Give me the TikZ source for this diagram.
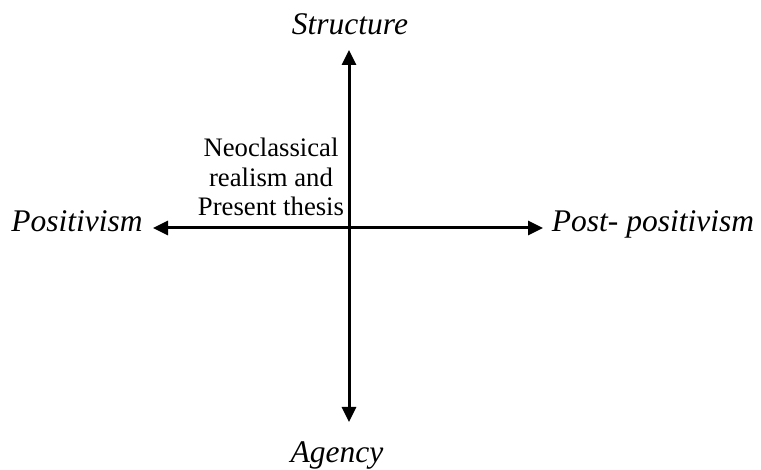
\documentclass[tikz,border=0pt]{standalone}
\usepackage{fontspec}
\setmainfont{Liberation Serif}
\usetikzlibrary{arrows.meta}
\begin{document}
\begin{tikzpicture}[x=1pt,y=-1pt,
  axis/.style={line width=3pt,-{Triangle[length=15pt,width=14pt]}},
  axislabel/.style={font=\fontsize{31.5}{36}\selectfont\itshape,inner sep=0pt,anchor=base},
  note/.style={font=\fontsize{26.7}{29.5}\selectfont,align=center,inner sep=0pt}]
\useasboundingbox (0,0) rectangle (761,470);
\coordinate (top) at (349,50);
\coordinate (bot) at (349,422);
\coordinate (lft) at (153,228);
\coordinate (rgt) at (543,228);
\coordinate (ctr) at (349,228);
\node[axislabel] (structure) at (350,35) {Structure};
\node[axislabel] (agency) at (337,462) {Agency};
\node[axislabel] (positivism) at (77,232) {Positivism};
\node[axislabel] (postpos) at (653,232) {Post- positivism};
\node[note,anchor=base] (neo) at (271,216) {Neoclassical\\realism and\\Present thesis};
\draw[axis] (ctr) -- (top);
\draw[axis] (ctr) -- (bot);
\draw[axis] (ctr) -- (lft);
\draw[axis] (ctr) -- (rgt);
\end{tikzpicture}
\end{document}
